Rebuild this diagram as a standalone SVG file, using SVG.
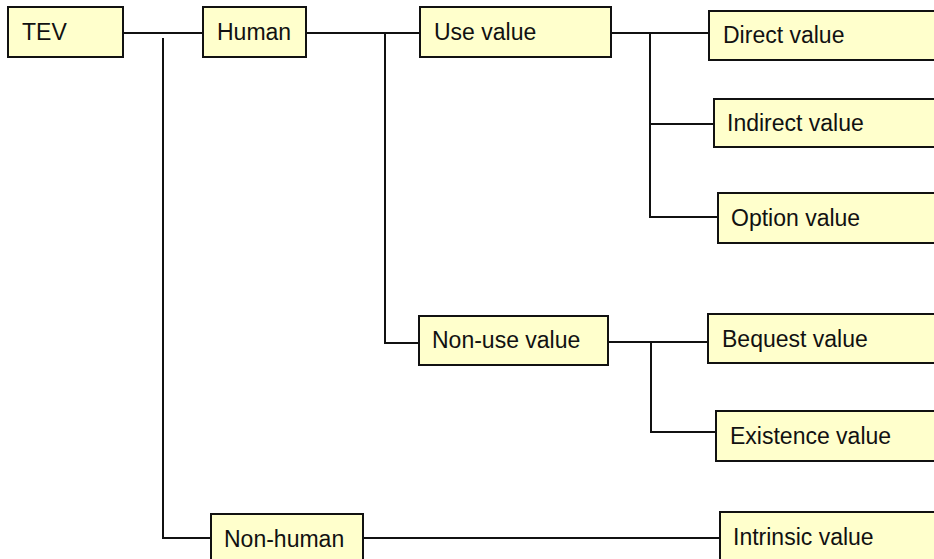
<svg xmlns="http://www.w3.org/2000/svg" width="934" height="559" viewBox="0 0 934 559">
<style>
.box{fill:#FFFFCC;stroke:#111;stroke-width:2}
.lbl{font-family:"Liberation Sans",Arial,sans-serif;font-size:23px;fill:#111}
.ln{stroke:#111;stroke-width:2;fill:none}
</style>
<rect width="934" height="559" fill="#fff"/>
<g id="connectors">
<line class="ln" x1="123" y1="33" x2="203" y2="33"/>
<line class="ln" x1="163" y1="38" x2="163" y2="538"/>
<line class="ln" x1="162" y1="538" x2="211" y2="538"/>
<line class="ln" x1="306" y1="33" x2="420" y2="33"/>
<line class="ln" x1="385" y1="32" x2="385" y2="344"/>
<line class="ln" x1="384" y1="343" x2="419" y2="343"/>
<line class="ln" x1="611" y1="33" x2="709" y2="33"/>
<line class="ln" x1="650" y1="32" x2="650" y2="218"/>
<line class="ln" x1="649" y1="124" x2="714" y2="124"/>
<line class="ln" x1="649" y1="217" x2="718" y2="217"/>
<line class="ln" x1="608" y1="342" x2="708" y2="342"/>
<line class="ln" x1="651" y1="341" x2="651" y2="433"/>
<line class="ln" x1="650" y1="432" x2="716" y2="432"/>
<line class="ln" x1="363" y1="538" x2="720" y2="538"/>
</g>
<g id="tev"><rect class="box" x="8" y="7" width="115" height="50"/><text class="lbl" x="22" y="40">TEV</text></g>
<g id="human"><rect class="box" x="203" y="7" width="103" height="50"/><text class="lbl" x="217" y="40">Human</text></g>
<g id="use-value"><rect class="box" x="420" y="7" width="191" height="50"/><text class="lbl" x="434" y="40">Use value</text></g>
<g id="direct-value"><rect class="box" x="709" y="11" width="240" height="49"/><text class="lbl" x="723" y="43">Direct value</text></g>
<g id="indirect-value"><rect class="box" x="714" y="99" width="240" height="48"/><text class="lbl" x="727" y="131">Indirect value</text></g>
<g id="option-value"><rect class="box" x="718" y="193" width="240" height="50"/><text class="lbl" x="731" y="226">Option value</text></g>
<g id="non-use-value"><rect class="box" x="419" y="316" width="189" height="49"/><text class="lbl" x="432" y="348">Non-use value</text></g>
<g id="bequest-value"><rect class="box" x="708" y="314" width="240" height="49"/><text class="lbl" x="722" y="347">Bequest value</text></g>
<g id="existence-value"><rect class="box" x="716" y="411" width="240" height="50"/><text class="lbl" x="730" y="444">Existence value</text></g>
<g id="non-human"><rect class="box" x="211" y="514" width="152" height="50"/><text class="lbl" x="224" y="547">Non-human</text></g>
<g id="intrinsic-value"><rect class="box" x="720" y="512" width="240" height="50"/><text class="lbl" x="733" y="545">Intrinsic value</text></g>
</svg>
